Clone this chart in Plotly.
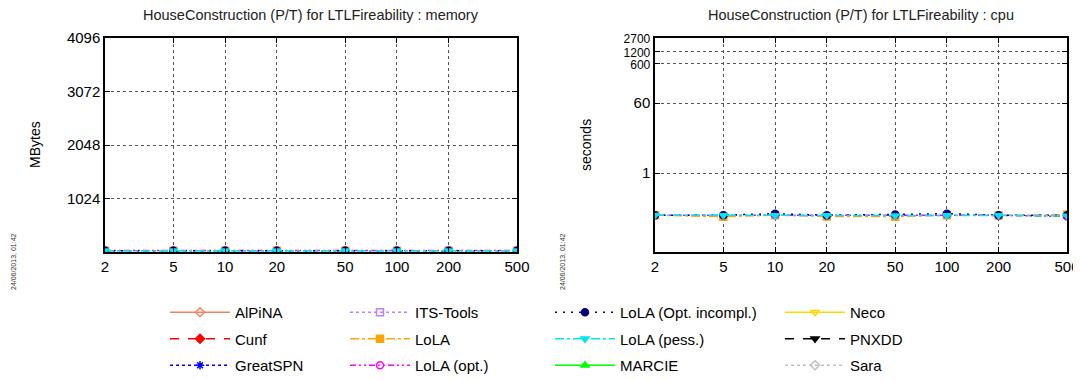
import plotly.graph_objects as go

# -----------------------------
# data
# -----------------------------
scales = [2, 5, 10, 20, 50, 100, 200, 500]

mem_lola = [26, 26, 25, 26, 26, 25, 26, 26]
mem_lola_opt = [27, 27, 27, 27, 27, 27, 27, 27]
mem_lola_incompl = [26, 26, 26, 26, 26, 26, 26, 26]
mem_lola_pess = [25, 25, 25, 25, 25, 25, 25, 25]

cpu_lola = [0.086, 0.079, 0.086, 0.080, 0.079, 0.086, 0.085, 0.088]
cpu_lola_opt = [0.086, 0.086, 0.087, 0.085, 0.086, 0.088, 0.085, 0.080]
cpu_lola_incompl = [0.086, 0.086, 0.094, 0.086, 0.090, 0.094, 0.086, 0.086]
cpu_lola_pess = [0.086, 0.085, 0.084, 0.085, 0.083, 0.084, 0.085, 0.082]

mem_ticks = [1024, 2048, 3072, 4096]
cpu_ticks = [1, 60, 600, 1200, 2700]

# tool name -> (color, dash, marker symbol, legend column)
tools = {
    'AlPiNA': ('#f4845f', 'solid', 'diamond-open', 1),
    'Cunf': ('#ff0000', 'dash', 'diamond', 1),
    'GreatSPN': ('#0000ff', 'dot', 'asterisk-open', 1),
    'ITS-Tools': ('#c080ff', 'dot', 'square-open', 2),
    'LoLA': ('#ffa500', 'dashdot', 'square', 2),
    'LoLA (opt.)': ('#ff00ff', '6px,3px,2px,3px,2px,3px', 'circle-open', 2),
    'LoLA (Opt. incompl.)': ('#000080', '2px,6px', 'circle', 3),
    'LoLA (pess.)': ('#00e5ee', 'dashdot', 'triangle-down', 3),
    'MARCIE': ('#00ff00', 'solid', 'triangle-up', 3),
    'Neco': ('#ffd700', 'solid', 'triangle-down-open', 4),
    'PNXDD': ('#000000', 'dash', 'triangle-down', 4),
    'Sara': ('#c0c0c0', 'dot', 'diamond-open', 4),
}

series = {
    'LoLA': (mem_lola, cpu_lola),
    'LoLA (opt.)': (mem_lola_opt, cpu_lola_opt),
    'LoLA (Opt. incompl.)': (mem_lola_incompl, cpu_lola_incompl),
    'LoLA (pess.)': (mem_lola_pess, cpu_lola_pess),
}

fig = go.Figure()

for name, (color, dash, symbol, col) in tools.items():
    legend_id = 'legend' if col == 1 else f'legend{col}'
    # tools without results get a single empty point so they still show in the legend
    mem, cpu = series.get(name, ([None], [None]))
    x = scales if name in series else [None]
    common = dict(mode='lines+markers', line=dict(color=color, dash=dash, width=1.5),
                  marker=dict(symbol=symbol, size=7, color=color, line=dict(color=color, width=1.5)))
    fig.add_trace(go.Scatter(x=x, y=mem, name=name, legend=legend_id, legendgroup=name,
                             xaxis='x', yaxis='y', **common))
    fig.add_trace(go.Scatter(x=x, y=cpu, name=name, legendgroup=name, showlegend=False,
                             xaxis='x2', yaxis='y2', **common))

# the page body adds an 8px offset, so the figure is a bit smaller than the window
OFF = 8
W, H = 1081 - OFF, 381 - OFF
px = lambda p: (p - OFF) / W
py = lambda p: 1 - (p - OFF) / H

axis_common = dict(showline=True, mirror='ticks', linecolor='black', linewidth=1.5,
                   ticks='inside', ticklen=5, tickcolor='black', automargin=False,
                   showgrid=True, gridcolor='#555555', griddash='dot', gridwidth=1,
                   zeroline=False, tickfont=dict(size=15, color='black'))

# the top three cpu ticks sit very close together, so their labels are a bit smaller
cpu_ticktext = [str(t) if t < 600 else f'<span style="font-size:12px">{t}</span>' for t in cpu_ticks]

fig.update_layout(
    width=W, height=H,
    margin=dict(l=0, r=0, t=0, b=0, autoexpand=False),
    paper_bgcolor='white', plot_bgcolor='white',
    font=dict(family='Liberation Sans, Arial, sans-serif', color='black'),
    xaxis=dict(domain=[px(105), px(517)], type='log', range=[0.30103, 2.69897],
               tickvals=scales, ticktext=[str(s) for s in scales], anchor='y', **axis_common),
    yaxis=dict(domain=[py(252), py(38)], range=[0, 4096], tickvals=mem_ticks,
               anchor='x', **axis_common),
    xaxis2=dict(domain=[px(655), px(1067)], type='log', range=[0.30103, 2.69897],
                tickvals=scales, ticktext=[str(s) for s in scales], anchor='y2', **axis_common),
    yaxis2=dict(domain=[py(252), py(38)], type='log', range=[-2, 3.4314],
                tickvals=cpu_ticks, ticktext=cpu_ticktext, anchor='x2', **axis_common),
    showlegend=True,
)

legend_common = dict(orientation='v', yanchor='top', y=py(296), xanchor='left',
                     bgcolor='rgba(0,0,0,0)', font=dict(size=15, color='black'),
                     itemwidth=60, traceorder='grouped', tracegroupgap=4)
fig.update_layout(
    legend=dict(x=px(165), **legend_common),
    legend2=dict(x=px(345), **legend_common),
    legend3=dict(x=px(550), **legend_common),
    legend4=dict(x=px(780), **legend_common),
)

# titles, axis labels, date stamps
note = dict(xref='paper', yref='paper', showarrow=False, xanchor='center', yanchor='middle')
for cx, title in [(311, 'memory'), (861, 'cpu')]:
    fig.add_annotation(x=px(cx), y=py(15), text=f'HouseConstruction (P/T) for LTLFireability : {title}',
                       font=dict(size=14.5, color='#222'), **note)
fig.add_annotation(x=px(35), y=py(145), text='MBytes', textangle=-90, font=dict(size=14), **note)
fig.add_annotation(x=px(586), y=py(145), text='seconds', textangle=-90, font=dict(size=14), **note)
for dx in [13, 562]:
    fig.add_annotation(x=px(dx), y=py(262), text='24/06/2013, 01:42', textangle=-90,
                       font=dict(size=7, color='#333'), **note)

fig.write_html('out.html')
